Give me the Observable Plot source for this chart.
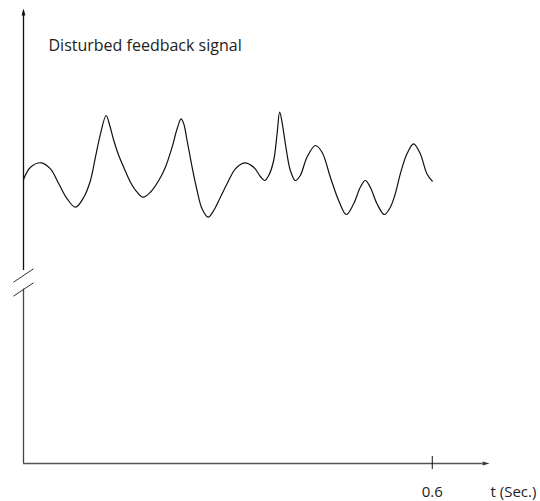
<!DOCTYPE html>
<html>
<head>
<meta charset="utf-8">
<script src="https://cdn.jsdelivr.net/npm/d3@7"></script>
<script src="https://cdn.jsdelivr.net/npm/@observablehq/plot@0.6"></script>
<style>
  html, body { margin: 0; padding: 0; background: #fff; }
</style>
</head>
<body>
<div id="chart"></div>
<script>
// Time samples (seconds)
const time = [
  0.000, 0.0103, 0.0260, 0.0396, 0.0518, 0.0641, 0.0763, 0.0885, 0.0983, 0.1056,
  0.1130, 0.1213, 0.1266, 0.1325, 0.1398, 0.1471, 0.1570, 0.1668, 0.1756, 0.1863,
  0.1985, 0.2083, 0.2181, 0.2255, 0.2313, 0.2352, 0.2401, 0.2475, 0.2548, 0.2621,
  0.2710, 0.2792, 0.2890, 0.2988, 0.3110, 0.3247, 0.3379, 0.3477, 0.3540, 0.3599,
  0.3672, 0.3722, 0.3760, 0.3799, 0.3844, 0.3917, 0.3990, 0.4063, 0.4161, 0.4284,
  0.4382, 0.4504, 0.4626, 0.4738, 0.4846, 0.4944, 0.5017, 0.5090, 0.5189, 0.5296,
  0.5384, 0.5457, 0.5531, 0.5629, 0.5726, 0.5824, 0.5921, 0.600];
// Disturbed feedback signal level (arbitrary units; the axis is broken)
const signal = [
  284, 296.3, 300.7, 294.7, 279.7, 264.7, 256.3, 266.3, 283, 306.3,
  329.7, 348, 338, 323, 308, 296.3, 281.3, 271.3, 266.3, 271.3,
  283, 296.3, 316.3, 334.7, 344.7, 339.7, 323, 296.3, 273, 254.7,
  246.3, 253, 266.3, 279.7, 294.7, 300.7, 296.3, 287, 283, 288,
  303, 329.7, 351.3, 339.7, 319.7, 293, 283, 288, 306.3, 318,
  311.3, 286.3, 263, 249, 259.7, 276.3, 283, 276.3, 259.7, 249,
  256.3, 269.7, 289.7, 309.7, 319.7, 309.7, 289.7, 282.3];

const title = "Disturbed feedback signal";
const tickValues = [0.6];
const tickLabels = ["0.6"];
const xLabel = "t (Sec.)";

// axis extents (data units)
const tMax = 0.684;     // end of time axis (arrow tip)
const yTop = 455;       // top of signal axis (arrow tip)
const breakLow = 175, breakHigh = 185; // gap in signal axis

const data = time.map((t, i) => ({t, v: signal[i]}));

const arrowHead = {
  draw(context) {
    context.moveTo(0, 0);
    context.lineTo(-1.9, 7);
    context.lineTo(1.9, 7);
    context.closePath();
  }
};

const dx = 0.0147; // half-width of break slashes in time units
const slashes = [
  {x1: -dx, y1: breakLow + 6.3, x2: dx, y2: breakLow + 19.7},
  {x1: -dx, y1: breakLow - 7.7, x2: dx, y2: breakLow + 5.7}
];

const chart = Plot.plot({
  width: 540,
  height: 501,
  marginLeft: 23,
  marginRight: 51,
  marginTop: 8,
  marginBottom: 38,
  style: {fontFamily: "'Open Sans', sans-serif", background: "#fff"},
  x: {domain: [0, tMax], axis: null},
  y: {domain: [0, yTop], axis: null},
  marks: [
    // y axis (broken)
    Plot.ruleX([0], {y1: breakHigh + 8, y2: yTop - 3, stroke: "#111", strokeWidth: 1.3}),
    Plot.ruleX([0], {y1: 0, y2: breakLow - 0.5, stroke: "#444", strokeWidth: 1.3}),
    Plot.link(slashes, {x1: "x1", y1: "y1", x2: "x2", y2: "y2", stroke: "#333", strokeWidth: 1}),
    // x axis
    Plot.ruleY([0], {x1: 0, x2: tMax - 0.01, stroke: "#555", strokeWidth: 1.4}),
    Plot.dot([{x: 0, y: yTop}], {x: "x", y: "y", symbol: arrowHead, fill: "#111", stroke: null}),
    Plot.dot([{x: tMax, y: 0}], {x: "x", y: "y", symbol: arrowHead, fill: "#333", stroke: null, rotate: 90}),
    // tick
    Plot.ruleX(tickValues, {y1: -6, y2: 7, stroke: "#111", strokeWidth: 1}),
    Plot.text(tickValues, {x: d => d, y: -33, text: (d, i) => tickLabels[i], fontSize: 15, textAnchor: "middle", lineAnchor: "bottom", fill: "#222"}),
    Plot.text([xLabel], {x: tMax + 0.0015, y: -33, text: d => d, fontSize: 15, textAnchor: "start", lineAnchor: "bottom", fill: "#222"}),
    // title
    Plot.text([title], {x: 0.0367, y: 413, text: d => d, fontSize: 16, textAnchor: "start", lineAnchor: "bottom", fill: "#222"}),
    // signal
    Plot.line(data, {x: "t", y: "v", curve: "catmull-rom", stroke: "#111", strokeWidth: 1.2})
  ]
});
document.getElementById("chart").appendChild(chart);
</script>
</body>
</html>
